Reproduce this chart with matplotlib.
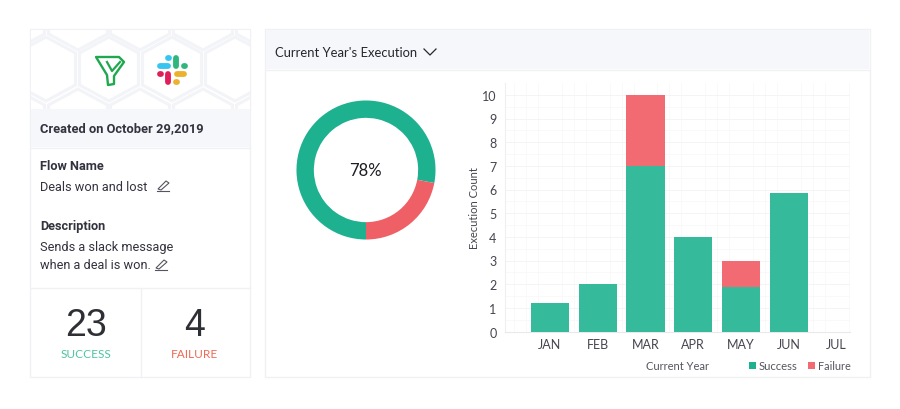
"""Flow execution dashboard card with donut and stacked monthly bars."""

import numpy as np
import matplotlib
matplotlib.use("Agg")
import matplotlib.pyplot as plt
from matplotlib.patches import Polygon, Rectangle

months = ["JAN", "FEB", "MAR", "APR", "MAY", "JUN", "JUL"]
success = [1.2, 2, 7, 4, 1.9, 5.85, 0]
failure = [0, 0, 3, 0, 1.1, 0, 0]
donut_values = [78, 22]
donut_label = "78%"
success_count = "23"
failure_count = "4"

GREEN = "#35bb9c"
RED = "#f26b72"
DONUT_GREEN = "#1eb18f"
DONUT_RED = "#ef5f66"
DARK = "#33333f"
BORDER = "#f0f1f5"
HEADER = "#f6f7fb"

fig = plt.figure(figsize=(9, 4.1), dpi=100, facecolor="white")

# full-figure axes in pixel coordinates for the cards
bg = fig.add_axes([0, 0, 1, 1])
bg.set_xlim(0, 900)
bg.set_ylim(410, 0)
bg.axis("off")

# left card
bg.add_patch(Rectangle((30, 30), 220, 348, fc="white", ec=BORDER, lw=1))
bg.add_patch(Rectangle((31, 110), 219, 38, fc=HEADER, ec="none"))
bg.plot([31, 250], [148.5, 148.5], color=BORDER, lw=1)
bg.plot([31, 250], [288.5, 288.5], color=BORDER, lw=1)
bg.plot([140.5, 140.5], [289, 378], color=BORDER, lw=1)

# hexagon backdrop, clipped to the logo strip
clip = Rectangle((31, 31), 219, 79, transform=bg.transData)
for cx, cy in [(46, 70), (109, 70), (172, 70), (235, 70), (15, 19), (78, 19),
               (140, 19), (203, 19), (266, 19), (15, 122), (78, 122),
               (140, 122), (203, 122), (266, 122)]:
    angles = np.radians(np.arange(30, 390, 60))
    hexagon = Polygon(np.column_stack([cx + 29.5 * np.cos(angles) / np.cos(np.radians(30)),
                                       cy + 32 * np.sin(angles)]),
                      fc="white", ec="#f3f4f8", lw=2.2)
    bg.add_patch(hexagon)
    hexagon.set_clip_path(clip)

# funnel logo
funnel = [(96, 58), (119, 58), (124, 63), (114, 77), (114, 85), (108, 86), (107, 76)]
bg.add_patch(Polygon(funnel, fc="none", ec="#1fa84f", lw=1.7, joinstyle="round"))
bg.plot([107, 112, 120], [63, 72, 63], color="#1fa84f", lw=1.6)

# slack logo
for x0, y0, x1, y1, col in [(160, 67, 168, 67, "#36c5f0"), (176, 59, 176, 67, "#2eb67d"),
                            (177, 75, 184, 75, "#ecb22e"), (168, 75, 168, 83, "#e01e5a"),
                            (160, 75, 160.5, 75, "#e01e5a"), (176, 83, 176.5, 83, "#ecb22e"),
                            (184, 67, 184.5, 67, "#2eb67d"), (168, 59, 168.5, 59, "#36c5f0")]:
    bg.plot([x0, x1], [y0, y1], color=col, lw=4.2, solid_capstyle="round")

left_font = "Roboto"
bg.text(40, 129, "Created on October 29,2019", family=left_font, fontsize=9.3, weight="bold",
        color=DARK, va="center")
bg.text(40, 167, "Flow Name", family=left_font, fontsize=9.2, weight="bold", color=DARK, va="center")
bg.text(40, 188, "Deals won and lost", family=left_font, fontsize=9.2, color=DARK, va="center")
bg.text(40, 227, "Description", family=left_font, fontsize=9.2, weight="bold", color=DARK, va="center")
bg.text(40, 248, "Sends a slack message", family=left_font, fontsize=9.2, color=DARK, va="center")
bg.text(40, 266, "when a deal is won.", family=left_font, fontsize=9.2, color=DARK, va="center")

# edit pencils
for px, py in [(157, 192), (155, 271)]:
    bg.plot([px, px + 12], [py, py], color="#55555f", lw=0.8)
    bg.add_patch(Polygon([(px + 1, py - 2), (px + 9, py - 10), (px + 12, py - 8), (px + 4, py - 1)],
                         fc="none", ec="#55555f", lw=0.8))

bg.text(86, 326, success_count, family="Liberation Sans", fontsize=27, color="#2f3035",
        ha="center", va="center")
bg.text(195, 326, failure_count, family="Liberation Sans", fontsize=27, color="#2f3035",
        ha="center", va="center")
bg.text(86, 355, "SUCCESS", family="Lato", fontsize=8.6, color="#4fc3a1", ha="center", va="center")
bg.text(195, 355, "FAILURE", family="Lato", fontsize=8.6, color="#ef6a56", ha="center", va="center")

# right card
bg.add_patch(Rectangle((265, 30), 605, 348, fc="white", ec=BORDER, lw=1))
bg.add_patch(Rectangle((266, 31), 603, 39, fc=HEADER, ec="none"))
bg.plot([266, 869], [70.5, 70.5], color=BORDER, lw=1)
bg.text(275, 53, "Current Year's Execution", family="Lato", fontsize=9.4, color="#26262e", va="center")
bg.plot([424, 430, 436], [50, 56, 50], color="#26262e", lw=0.9)

# donut
donut = fig.add_axes([293 / 900, 1 - 244 / 410, 146 / 900, 146 / 410])
donut.pie(donut_values, colors=[DONUT_GREEN, DONUT_RED], startangle=270, counterclock=False,
          radius=1.0, wedgeprops={"width": 0.25, "linewidth": 0})
donut.set_xlim(-1.05, 1.05)
donut.set_ylim(-1.05, 1.05)
donut.text(-0.015, 0, donut_label, family="Lato", fontsize=12, color="#1d1d22", ha="center", va="center")

# stacked bars
ax = fig.add_axes([505 / 900, 1 - 332.5 / 410, 345 / 900, 248.5 / 410])
x = np.arange(len(months))
ax.bar(x, success, width=0.8, color=GREEN, zorder=3)
ax.bar(x, failure, width=0.8, bottom=success, color=RED, zorder=3)
ax.set_xlim(-0.94, 6.28)
ax.set_ylim(0, 10.5)
ax.set_yticks(range(0, 11))
ax.set_xticks(x)
ax.set_xticklabels(months)
ax.set_yticks(np.arange(0, 10.5, 0.5), minor=True)
ax.set_xticks(np.arange(-0.75, 6.3, 0.25), minor=True)
ax.grid(True, which="major", axis="y", color="#f3f4f6", lw=0.7, zorder=0)
ax.grid(True, which="minor", color="#f8f8fa", lw=0.6, zorder=0)
ax.tick_params(which="both", length=0)
ax.tick_params(axis="x", labelsize=9, labelcolor="#45454f", pad=5)
ax.tick_params(axis="y", labelsize=9, labelcolor="#45454f", pad=6)
for label in ax.get_xticklabels() + ax.get_yticklabels():
    label.set_family("Lato")
for side in ["top", "right"]:
    ax.spines[side].set_visible(False)
ax.spines["left"].set_color("#eeeff2")
ax.spines["bottom"].set_color("#e8e9ed")

bg.text(474, 208, "Execution Count", family="Lato", fontsize=8, color="#45454f", rotation=90,
        ha="center", va="center")
bg.text(677, 367, "Current Year", family="Lato", fontsize=8, color="#55555f", ha="center", va="center")
bg.add_patch(Rectangle((749, 363), 7, 7, fc="#1eb18f", ec="none"))
bg.text(759, 366.5, "Success", family="Lato", fontsize=8.1, color="#55555f", va="center")
bg.add_patch(Rectangle((808, 363), 7, 7, fc=RED, ec="none"))
bg.text(818, 366.5, "Failure", family="Lato", fontsize=7.8, color="#55555f", va="center")

fig.savefig("out.png", dpi=100)
